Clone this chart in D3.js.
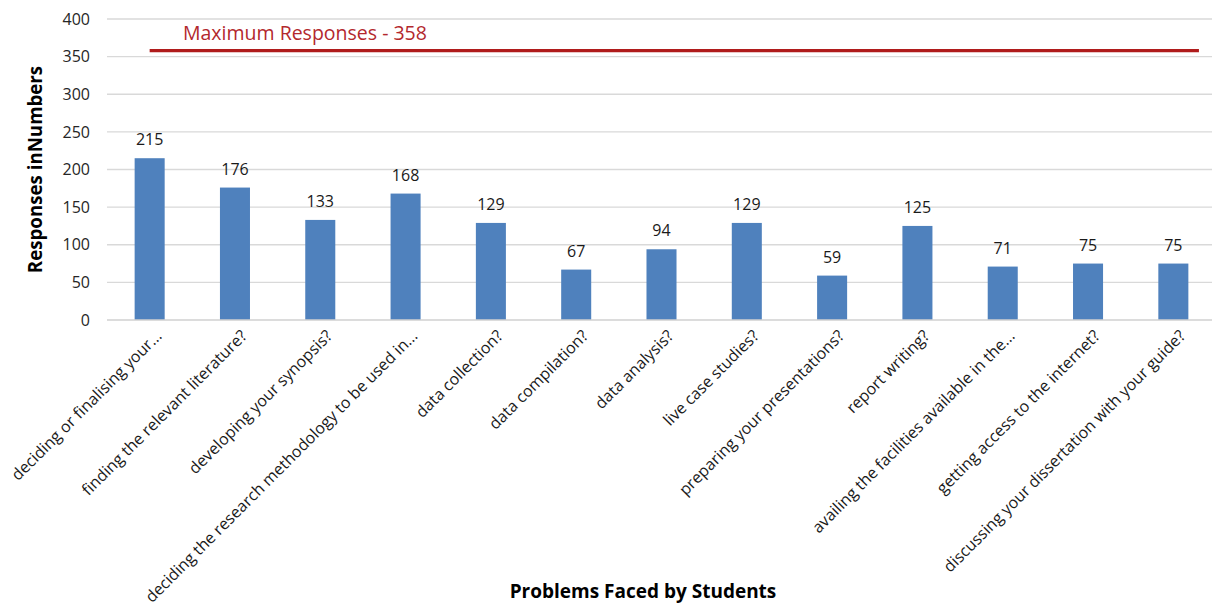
<!DOCTYPE html>
<html>
<head>
<meta charset="utf-8">
<script src="https://cdn.jsdelivr.net/npm/d3@7"></script>
<style>
  html, body { margin: 0; padding: 0; background: #fff; }
  svg { display: block; font-family: "Open Sans", "Noto Sans", sans-serif; }
</style>
</head>
<body>
<svg id="chart" width="1212" height="607"></svg>
<script>
// Problems reported by students while working on their dissertation
const categories = [
  "deciding or finalising your...",
  "finding the relevant literature?",
  "developing your synopsis?",
  "deciding the research methodology to be used in...",
  "data collection?",
  "data compilation?",
  "data analysis?",
  "live case studies?",
  "preparing your presentations?",
  "report writing?",
  "availing the facilities available in the...",
  "getting access to the internet?",
  "discussing your dissertation with your guide?"
];
const responses = [215, 176, 133, 168, 129, 67, 94, 129, 59, 125, 71, 75, 75];
const maxResponses = 358;
const yTicks = [0, 50, 100, 150, 200, 250, 300, 350, 400];
const yTitle = "Responses inNumbers";
const xTitle = "Problems Faced by Students";
const maxLabel = "Maximum Responses - " + maxResponses;

const svg = d3.select("#chart");
const plot = { left: 107, right: 1216, top: 19, bottom: 320 };

const x = d3.scaleBand()
  .domain(categories)
  .range([plot.left, plot.right])
  .paddingInner(0.648)
  .paddingOuter(0.324);

const y = d3.scaleLinear()
  .domain([0, 400])
  .range([plot.bottom, plot.top]);

// horizontal gridlines
svg.append("g")
  .selectAll("line")
  .data(yTicks.filter(d => d > 0))
  .join("line")
  .attr("x1", plot.left).attr("x2", 1212)
  .attr("y1", d => y(d)).attr("y2", d => y(d))
  .attr("stroke", "#d9d9d9").attr("stroke-width", 1.3);

// y axis tick labels
const yAxis = d3.axisLeft(y).tickValues(yTicks).tickSize(0).tickPadding(17);
const yg = svg.append("g").attr("transform", `translate(${plot.left},0)`).call(yAxis);
yg.select(".domain").remove();
yg.selectAll("text")
  .attr("font-size", 16)
  .attr("font-family", "Open Sans, sans-serif")
  .attr("fill", "#262626");

// bars
svg.append("g")
  .selectAll("rect")
  .data(responses)
  .join("rect")
  .attr("x", (d, i) => x(categories[i]))
  .attr("width", x.bandwidth())
  .attr("y", d => y(d))
  .attr("height", d => y(0) - y(d))
  .attr("fill", "#4f81bd");

// value labels
svg.append("g")
  .selectAll("text")
  .data(responses)
  .join("text")
  .attr("x", (d, i) => x(categories[i]) + x.bandwidth() / 2)
  .attr("y", d => y(d) - 13)
  .attr("text-anchor", "middle")
  .attr("font-size", 16)
  .attr("fill", "#1a1a1a")
  .text(d => d);

// x axis baseline
svg.append("line")
  .attr("x1", plot.left).attr("x2", 1212)
  .attr("y1", y(0)).attr("y2", y(0))
  .attr("stroke", "#d0d0d0").attr("stroke-width", 1.5);

// rotated category labels
const xAxis = d3.axisBottom(x).tickSize(0).tickPadding(0);
const xg = svg.append("g").attr("transform", `translate(0,${plot.bottom})`).call(xAxis);
xg.select(".domain").remove();
xg.selectAll("text")
  .attr("font-size", 16)
  .attr("font-family", "Open Sans, sans-serif")
  .attr("fill", "#1a1a1a")
  .attr("text-anchor", "end")
  .attr("dy", "0.35em")
  .attr("transform", "translate(9,13) rotate(-45)")
  .attr("y", 0)
  .attr("x", 0);

// maximum responses reference line
const lineX1 = x(categories[0]) + x.bandwidth() / 2;
const lineX2 = x(categories[categories.length - 1]) + x.bandwidth() / 2 + x.step() * 0.3;
svg.append("line")
  .attr("x1", lineX1).attr("x2", lineX2)
  .attr("y1", y(maxResponses)).attr("y2", y(maxResponses))
  .attr("stroke", "#b01c1c").attr("stroke-width", 3.2);

svg.append("text")
  .attr("x", 183)
  .attr("y", y(maxResponses) - 11)
  .attr("font-size", 19.5)
  .attr("fill", "#b3282d")
  .text(maxLabel);

// axis titles
svg.append("text")
  .attr("transform", `translate(42,${(plot.top + plot.bottom) / 2}) rotate(-90)`)
  .attr("text-anchor", "middle")
  .attr("font-size", 18.7)
  .attr("font-weight", "bold")
  .attr("fill", "#000")
  .text(yTitle);

svg.append("text")
  .attr("x", 643)
  .attr("y", 598)
  .attr("text-anchor", "middle")
  .attr("font-size", 19)
  .attr("font-weight", "bold")
  .attr("fill", "#000")
  .text(xTitle);
</script>
</body>
</html>
